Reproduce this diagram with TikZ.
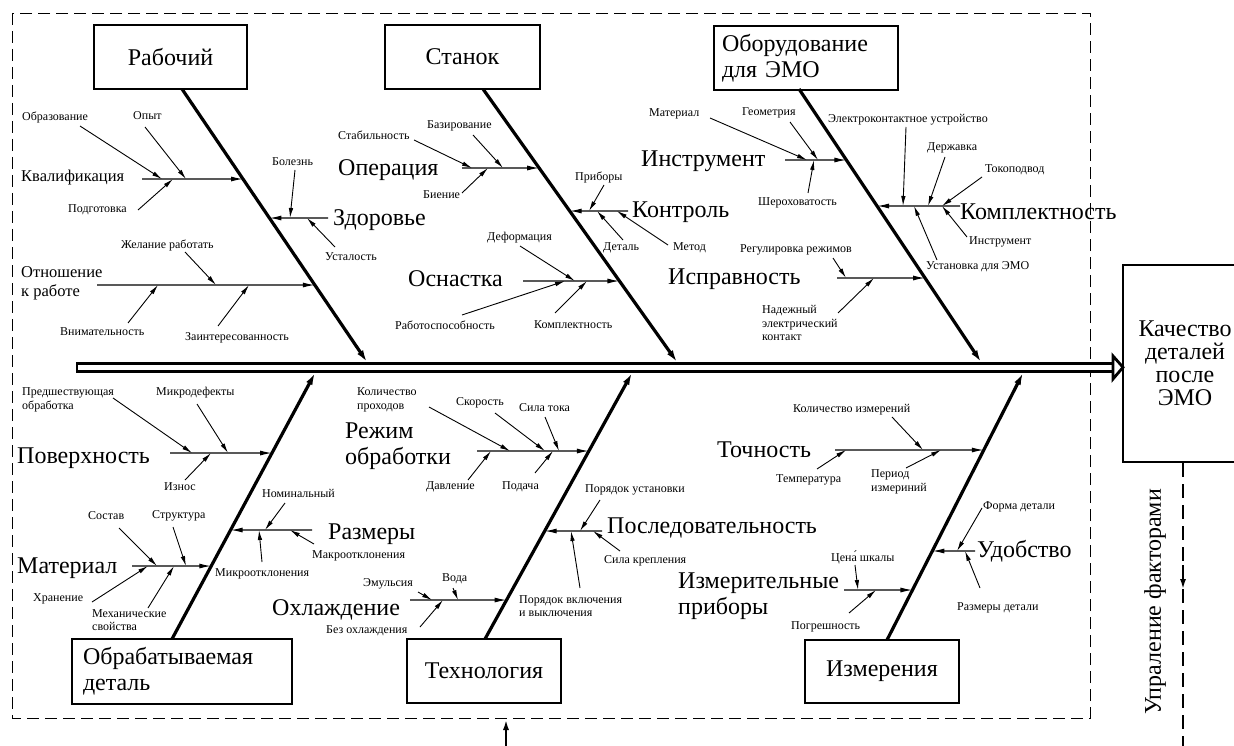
\documentclass[tikz,border=0pt]{standalone}
\usepackage{fontspec}
\setmainfont{Liberation Serif}
\usetikzlibrary{arrows.meta,calc}
\newcommand{\twig}[3]{\coordinate (#1s) at (#2); \coordinate (#1e) at (#3); \draw[twig] (#1s) -- (#1e);}
\newcommand{\fbrib}[4]{\coordinate (#1s) at (#4,#3); \coordinate (#1e) at (intersection of #2a--#2b and 0,#3--1,#3); \draw[rib] (#1s) -- (#1e);}
\tikzset{
  box/.style={draw, line width=2.8pt, inner sep=0pt, font=\fontsize{24}{26}\selectfont},
  bone/.style={line width=3.2pt, -{Latex[length=12pt,width=7pt]}},
  rib/.style={line width=1.2pt, -{Latex[length=12pt,width=5pt]}},
  twig/.style={line width=0.9pt, -{Latex[length=10pt,width=4.5pt]}},
  big/.style={font=\fontsize{24}{26}\selectfont, inner sep=0pt, anchor=west, align=left},
  mid/.style={font=\fontsize{16.5}{19}\selectfont, inner sep=0pt, anchor=west, align=left},
  sml/.style={font=\fontsize{12}{13.5}\selectfont, inner sep=0pt, anchor=west, align=left},
  frame/.style={line width=0.9pt, dash pattern=on 12pt off 6pt},
}
\begin{document}
\begin{tikzpicture}[x=1pt,y=-1pt]
\useasboundingbox (0,0) rectangle (1234,746);
% frame
\draw[frame] (12,13) rectangle (1090,718);
% boxes
\node[box, minimum width=153pt, minimum height=64pt] (rab) at (170.5,57) {Рабочий};
\node[box, minimum width=155pt, minimum height=64pt] (stan) at (462.5,57) {Станок};
\node[box, minimum width=184pt, minimum height=64pt, text width=168pt, align=left] (obor) at (806,58) {Оборудование\\для ЭМО};
\node[box, minimum width=220pt, minimum height=65pt, text width=198pt, align=left] (obr) at (182,671.5) {Обрабатываемая\\деталь};
\node[box, minimum width=154pt, minimum height=64pt] (tech) at (484,671) {Технология};
\node[box, minimum width=154pt, minimum height=63pt] (izm) at (882,671.5) {Измерения};
\node[box, minimum width=124pt, minimum height=197pt, align=center, font=\fontsize{24}{23}\selectfont] (kach) at (1185,363.5) {Качество\\деталей\\после\\ЭМО};
% spine
\draw[line width=2.8pt, fill=white] (77,363.3) rectangle (1113,371.3);
\coordinate (spH) at (1123,367.3);
\draw[line width=2.8pt, fill=white, line join=miter] (1113,356) -- (spH) -- (1113,379) -- cycle;
% main bones
\coordinate (B1a) at (182,89);  \coordinate (B1b) at (367,362);
\coordinate (B2a) at (483,89);  \coordinate (B2b) at (677,362);
\coordinate (B3a) at (799,89);  \coordinate (B3b) at (981,362);
\coordinate (B4a) at (172,639); \coordinate (B4b) at (315,373);
\coordinate (B5a) at (485,639); \coordinate (B5b) at (632,373);
\coordinate (B6a) at (887,640); \coordinate (B6b) at (1023,373);
\foreach \i in {1,...,6} {\draw[bone] (B\i a) -- (B\i b);}
% ---- Рабочий
\fbrib{kv}{B1}{179}{142}
\node[mid] (kval) at (21,178) {Квалификация};
\node[sml] (l-obraz) at (22,117) {Образование};
\node[sml] (l-opyt) at (133,116) {Опыт};
\node[sml] (l-podg) at (68,210) {Подготовка};
\twig{t1}{80,126}{162,179}
\twig{t2}{145,127}{186,179}
\twig{t3}{138,210}{173,179}
\fbrib{zd}{B1}{218}{328}
\node[big] (zdor) at (333,220) {Здоровье};
\node[sml] (l-bol) at (272,162) {Болезнь};
\node[sml] (l-ust) at (325,257) {Усталость};
\twig{t4}{295,170}{290,218}
\twig{t5}{335,247}{307,218}
\fbrib{ot}{B1}{285}{97}
\node[mid] (otn) at (21,283) {Отношение\\к работе};
\node[sml] (l-zhel) at (121,245) {Желание работать};
\node[sml] (l-vnim) at (60,332) {Внимательность};
\node[sml] (l-zain) at (185,338) {Заинтересованность};
\twig{t6}{185,252}{216,285}
\twig{t7}{128,323}{158,285}
\twig{t8}{218,326}{249,285}
% ---- Станок
\fbrib{op}{B2}{168}{462}
\node[big] (oper) at (338,170) {Операция};
\node[sml] (l-stab) at (338,135) {Стабильность};
\node[sml] (l-baz) at (427,126) {Базирование};
\node[sml] (l-bien) at (423,195) {Биение};
\twig{t9}{414,140}{472,168}
\twig{t10}{473,135}{503,168}
\twig{t11}{462,193}{488,168}
\fbrib{ko}{B2}{211}{628}
\node[big] (kontr) at (632,212) {Контроль};
\node[sml] (l-prib) at (575,177) {Приборы};
\node[sml] (l-det) at (603,248) {Деталь};
\node[sml] (l-met) at (673,248) {Метод};
\twig{t12}{604,185}{589,211}
\twig{t13}{623,240}{597,211}
\twig{t14}{668,245}{617,211}
\fbrib{os}{B2}{281}{523}
\node[big] (osn) at (408,279) {Оснастка};
\node[sml] (l-def) at (487,238) {Деформация};
\node[sml] (l-rab) at (395,325) {Работоспособность};
\node[sml] (l-kompl1) at (534,325) {Комплектность};
\twig{t15}{520,246}{575,281}
\twig{t16}{462,315}{565,281}
\twig{t17}{555,313}{587,281}
% ---- Оборудование для ЭМО
\fbrib{in}{B3}{160}{785}
\node[big] (instr) at (641,161) {Инструмент};
\node[sml] (l-mat1) at (649,114) {Материал};
\node[sml] (l-geom) at (742,113) {Геометрия};
\node[sml] (l-sher) at (758,203) {Шероховатость};
\twig{t18}{710,118}{807,160}
\twig{t19}{790,122}{818,160}
\twig{t20}{808,193}{814,160}
\fbrib{km}{B3}{206}{960}
\node[big] (kompl) at (960,212) {Комплектность};
\node[sml] (l-elk) at (828,120) {Электроконтактное устройство};
\node[sml] (l-derzh) at (927,148) {Державка};
\node[sml] (l-tok) at (985,170) {Токоподвод};
\node[sml] (l-instr2) at (969,242) {Инструмент};
\node[sml] (l-ust2) at (926,267) {Установка для ЭМО};
\twig{t21}{906,127}{903,206}
\twig{t22}{945,157}{928,206}
\twig{t23}{982,177}{942,206}
\twig{t24}{967,237}{942,206}
\twig{t25}{937,260}{914,206}
\fbrib{is}{B3}{278}{837}
\node[big] (ispr) at (668,279) {Исправность};
\node[sml] (l-reg) at (740,250) {Регулировка режимов};
\node[sml] (l-nad) at (762,323) {Надежный\\электрический\\контакт};
\twig{t26}{833,258}{846,278}
\twig{t27}{838,313}{874,278}
% ---- Обрабатываемая деталь
\fbrib{po}{B4}{453}{170}
\node[big] (pov) at (17,458) {Поверхность};
\node[sml] (l-pred) at (22,400) {Предшествующая\\обработка};
\node[sml] (l-mikd) at (156,393) {Микродефекты};
\node[sml] (l-izn) at (164,487) {Износ};
\twig{t28}{113,398}{192,453}
\twig{t29}{197,404}{228,453}
\twig{t30}{185,480}{211,453}
\fbrib{ra}{B4}{530}{312}
\node[big] (razm) at (328,534) {Размеры};
\node[sml] (l-nom) at (262,493) {Номинальный};
\node[sml] (l-makr) at (312,556) {Макроотклонения};
\node[sml] (l-mikr) at (215,574) {Микроотклонения};
\twig{t31}{285,503}{265,530}
\twig{t32}{314,544}{290,530}
\twig{t33}{262,562}{259,530}
\fbrib{ma}{B4}{566}{132}
\node[big] (mater) at (17,568) {Материал};
\node[sml] (l-sost) at (88,516) {Состав};
\node[sml] (l-str) at (152,516) {Структура};
\node[sml] (l-hran) at (33,599) {Хранение};
\node[sml] (l-meh) at (92,620) {Механические\\свойства};
\twig{t34}{119,528}{157,566}
\twig{t35}{173,527}{186,566}
\twig{t36}{92,602}{148,566}
\twig{t37}{148,608}{174,566}
% ---- Технология
\fbrib{re}{B5}{451}{477}
\node[big] (rezh) at (345,446) {Режим\\обработки};
\node[sml] (l-kolp) at (357,400) {Количество\\проходов};
\node[sml] (l-skor) at (456,403) {Скорость};
\node[sml] (l-sila) at (519,408) {Сила тока};
\node[sml] (l-davl) at (426,487) {Давление};
\node[sml] (l-pod) at (502,487) {Подача};
\twig{t38}{429,407}{510,451}
\twig{t39}{495,413}{545,451}
\twig{t40}{545,417}{559,451}
\twig{t41}{468,480}{491,451}
\twig{t42}{535,473}{553,451}
\fbrib{pl}{B5}{531}{602}
\node[big] (posl) at (607,528) {Последовательность};
\node[sml] (l-pust) at (585,490) {Порядок установки};
\node[sml] (l-skr) at (604,561) {Сила крепления};
\node[sml] (l-pvk) at (519,606) {Порядок включения\\и выключения};
\twig{t43}{600,500}{580,531}
\twig{t44}{620,551}{593,531}
\twig{t45}{580,588}{571,531}
\fbrib{oh}{B5}{600}{410}
\node[big] (ohl) at (272,610) {Охлаждение};
\node[sml] (l-emul) at (363,584) {Эмульсия};
\node[sml] (l-voda) at (442,579) {Вода};
\node[sml] (l-bez) at (326,631) {Без охлаждения};
\twig{t46}{418,592}{432,600}
\twig{t47}{453,588}{458,600}
\twig{t48}{420,627}{443,600}
% ---- Измерения
\fbrib{to}{B6}{450}{835}
\node[big] (toch) at (717,450) {Точность};
\node[sml] (l-kolizm) at (793,410) {Количество измерений};
\node[sml] (l-temp) at (776,480) {Температура};
\node[sml] (l-per) at (871,482) {Период\\измериний};
\twig{t49}{892,417}{923,450}
\twig{t50}{817,469}{846,450}
\twig{t51}{906,468}{941,450}
\fbrib{ud}{B6}{551}{975}
\node[big] (udob) at (977,551) {Удобство};
\node[sml] (l-form) at (983,507) {Форма детали};
\node[sml] (l-rdet) at (957,608) {Размеры детали};
\twig{t52}{982,508}{957,551}
\twig{t53}{980,588}{965,551}
\fbrib{ip}{B6}{590}{844}
\node[big] (izmpr) at (678,596) {Измерительные\\приборы};
\node[sml] (l-cena) at (831,557) {Цена́ шкалы};
\node[sml] (l-pogr) at (791,627) {Погрешность};
\twig{t54}{855,565}{858,590}
\twig{t55}{849,613}{876,590}
% ---- feedback
\node[rotate=90, font=\fontsize{24}{26}\selectfont, inner sep=0pt] (upr) at (1155,602) {Упраление факторами};
\coordinate (fbx) at (1183,0);
\coordinate (fbEnd) at (1183,760);
\draw[line width=2.6pt, dash pattern=on 14pt off 7pt] (kach.south -| fbx) -- (fbEnd);
\coordinate (fbA) at (1183,565); \coordinate (fbB) at (1183,590);
\draw[line width=2.6pt, -{Latex[length=11pt,width=6pt]}] (fbA) -- (fbB);
\coordinate (inA) at (506,760); \coordinate (inB) at (506,719);
\draw[line width=2.6pt, -{Latex[length=11pt,width=6pt]}] (inA) -- (inB);
\end{tikzpicture}
\end{document}
